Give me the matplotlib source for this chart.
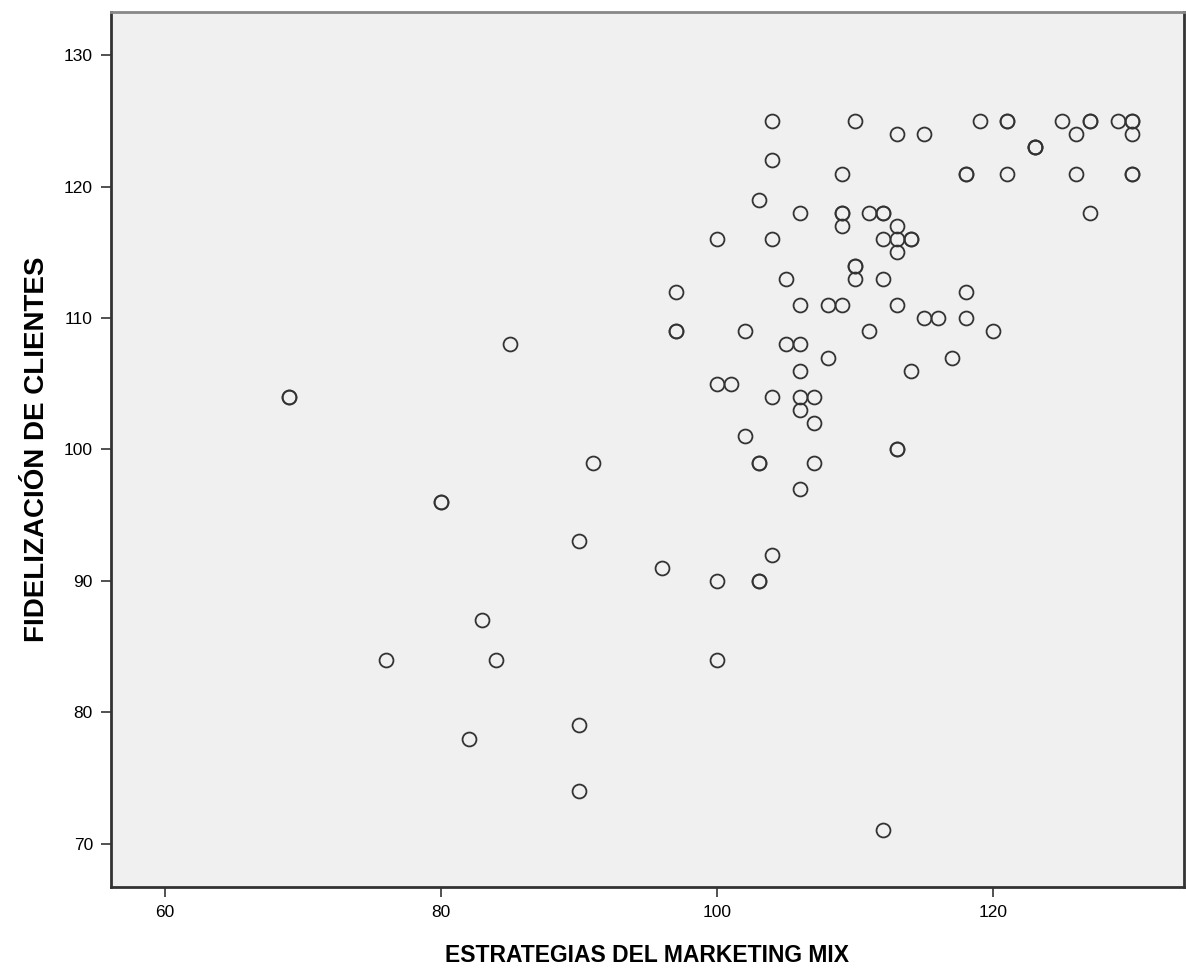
import matplotlib
matplotlib.use('Agg')
import matplotlib.pyplot as plt

# scatter values (repeated pairs = overlapping cases)
marketing_mix = [69, 69, 80, 80, 76, 82, 83, 84, 85, 90, 90, 90, 91, 96, 97, 97, 97,
                 100, 100, 101, 100, 100, 103, 103, 104, 106, 103, 103, 107, 113, 113,
                 102, 107, 106, 104, 106, 107, 106, 108, 105, 106, 102, 111, 106, 108,
                 109, 113, 105, 110, 112, 110, 110, 113, 104, 112, 113, 114, 114, 109,
                 113, 106, 109, 109, 111, 112, 112, 103, 109, 104, 104, 110, 113, 115,
                 119, 121, 121, 125, 127, 127, 129, 130, 130, 126, 130, 123, 123, 123,
                 118, 118, 121, 126, 130, 130, 127, 118, 115, 116, 118, 120, 117, 114,
                 112]
fidelizacion = [104, 104, 96, 96, 84, 78, 87, 84, 108, 93, 79, 74, 99, 91, 112, 109, 109,
                116, 105, 105, 90, 84, 90, 90, 92, 97, 99, 99, 99, 100, 100,
                101, 102, 103, 104, 104, 104, 106, 107, 108, 108, 109, 109, 111, 111,
                111, 111, 113, 113, 113, 114, 114, 115, 116, 116, 116, 116, 116, 117,
                117, 118, 118, 118, 118, 118, 118, 119, 121, 122, 125, 125, 124, 124,
                125, 125, 125, 125, 125, 125, 125, 125, 125, 124, 124, 123, 123, 123,
                121, 121, 121, 121, 121, 121, 118, 112, 110, 110, 110, 109, 107, 106,
                71]

x_ticks = [60, 80, 100, 120]
y_ticks = [70, 80, 90, 100, 110, 120, 130]

fig = plt.figure(figsize=(11.86, 9.76), dpi=100)
ax = fig.add_axes([0.0936, 0.0912, 0.9047, 0.8965])
ax.set_facecolor('#f0f0f0')

ax.plot(marketing_mix, fidelizacion, linestyle='none', marker='o', markersize=10,
        markerfacecolor='none', markeredgecolor='#333333', markeredgewidth=1.3)

ax.set_xlim(56.1, 133.8)
ax.set_ylim(66.7, 133.3)
ax.set_xticks(x_ticks)
ax.set_yticks(y_ticks)
ax.tick_params(direction='out', length=7, width=1.2, color='#333333',
               labelsize=12.5, pad=6)
for lab in ax.get_xticklabels() + ax.get_yticklabels():
    lab.set_family(['Liberation Sans', 'DejaVu Sans'])

for side in ['left', 'bottom', 'right']:
    ax.spines[side].set_color('#333333')
    ax.spines[side].set_linewidth(2)
ax.spines['top'].set_color('#888888')
ax.spines['top'].set_linewidth(2)

title_family = ['Liberation Sans Narrow', 'Liberation Sans', 'DejaVu Sans']
ax.set_xlabel('ESTRATEGIAS DEL MARKETING MIX', labelpad=17, fontsize=16.5,
              fontweight='bold', family=title_family)
ax.set_ylabel('FIDELIZACIÓN DE CLIENTES', labelpad=10, fontsize=20,
              fontweight='bold', family=title_family)

fig.savefig('out.png', dpi=100)
